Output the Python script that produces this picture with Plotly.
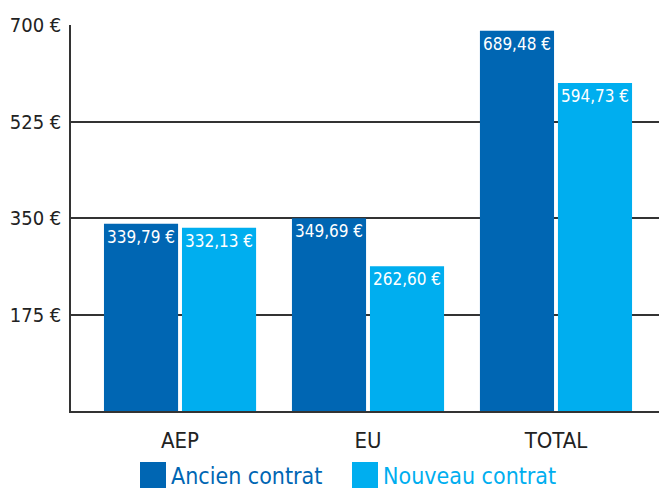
import plotly.graph_objects as go

categories = ["AEP", "EU", "TOTAL"]
ancien = [339.79, 349.69, 689.48]
nouveau = [332.13, 262.60, 594.73]
series_names = ["Ancien contrat", "Nouveau contrat"]
y_ticks = [175, 350, 525, 700]

DARK = "#0066b3"
LIGHT = "#00aeef"
FONT = "DejaVu Sans Condensed, DejaVu Sans, sans-serif"

def lab(vals):
    return [f"{v:.2f}".replace(".", ",") + " €" for v in vals]

fig = go.Figure()
for name, vals, col in [(series_names[0], ancien, DARK), (series_names[1], nouveau, LIGHT)]:
    fig.add_trace(go.Bar(
        x=categories, y=vals, name=name, marker=dict(color=col, line=dict(width=0)),
        text=lab(vals), textposition="inside", insidetextanchor="end",
        textfont=dict(color="white", size=17, family=FONT), textangle=0,
        showlegend=False, hoverinfo="skip",
    ))

W, H = 659, 488
L, R, T, B = 71, 0, 25, 77
pw, ph = W - L - R, H - T - B

def px(x):
    return (x - L) / pw

def py(y):
    return (H - B - y) / ph

# legend drawn in paper coords
for (x0, x1, col, text, tx) in [(140, 166, DARK, series_names[0], 169), (352, 378, LIGHT, series_names[1], 381)]:
    fig.add_shape(type="rect", xref="paper", yref="paper", x0=px(x0), x1=px(x1), y0=py(488), y1=py(462),
                  fillcolor=col, line=dict(width=0))
    fig.add_annotation(xref="paper", yref="paper", x=px(tx), y=py(476), text=text, showarrow=False,
                       xanchor="left", yanchor="middle", font=dict(color=col, size=23, family=FONT))

fig.update_layout(
    width=W, height=H, margin=dict(l=L, r=R, t=T, b=B, autoexpand=False),
    paper_bgcolor="white", plot_bgcolor="white",
    barmode="group", bargap=0.17, bargroupgap=0.05,
    font=dict(family=FONT, size=18, color="#222"),
)
fig.update_xaxes(range=[-0.58, 2.548], showline=True, linecolor="#333", linewidth=1.5, automargin=False,
                 showgrid=False, ticks="", ticklabelstandoff=9, tickfont=dict(size=22, color="#222"))
fig.update_yaxes(range=[0, 700], tickvals=y_ticks, ticktext=[f"{v} €" for v in y_ticks],
                 showgrid=True, gridcolor="#333", automargin=False,
                 gridwidth=1.5, showline=True, linecolor="#333", linewidth=1.5, zeroline=False,
                 ticks="", ticklabelstandoff=4, tickfont=dict(size=20, color="#222"))

fig.write_html("out.html", config={"displayModeBar": False},
               post_script="document.body.style.margin='0';document.body.style.overflow='hidden';")
